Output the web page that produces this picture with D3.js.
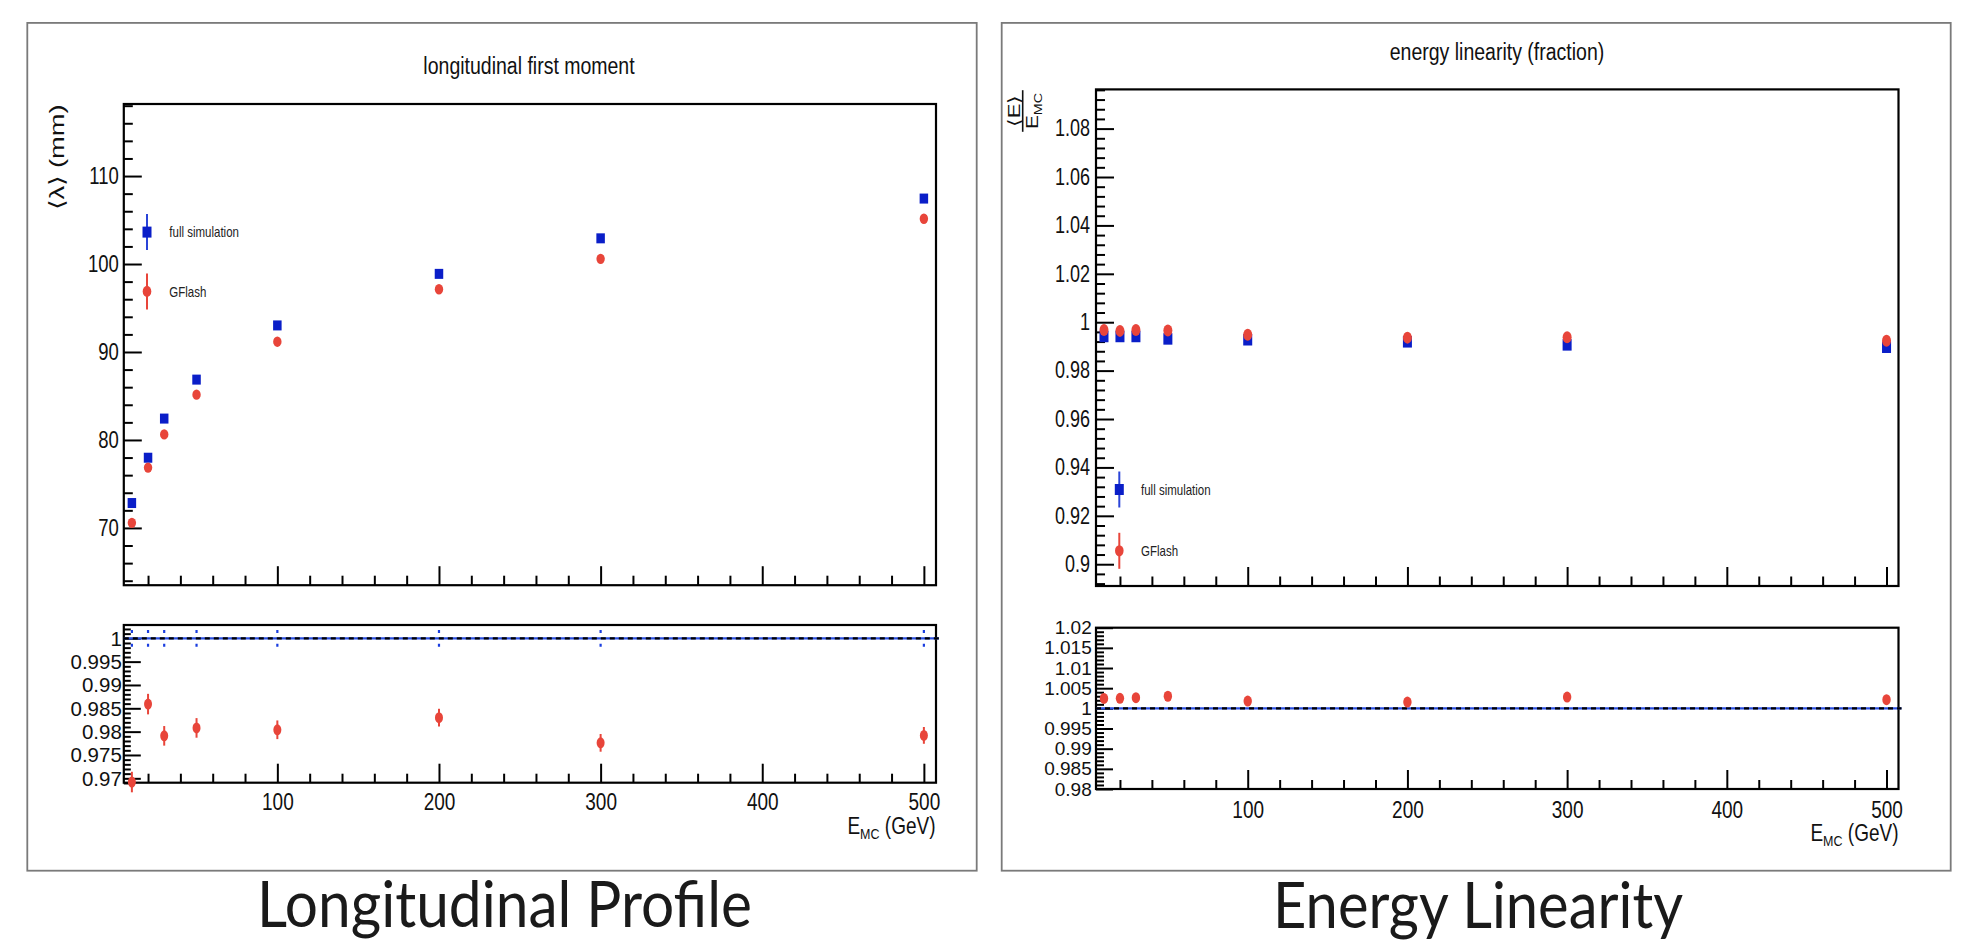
<!DOCTYPE html>
<html>
<head>
<meta charset="utf-8">
<script src="https://cdn.jsdelivr.net/npm/d3@7"></script>
<style>
  body { margin: 0; background: #fff; }
  svg { display: block; font-family: "Liberation Sans", Arial, Helvetica, sans-serif; }
</style>
</head>
<body>
<svg id="chart" width="1978" height="941"></svg>
<script>
var energies = [10, 20, 30, 50, 100, 200, 300, 500];

// longitudinal first moment <lambda> (mm)
var lambdaFull = [72.83, 77.98, 82.43, 86.86, 93.02, 98.88, 102.92, 107.44];
var lambdaGflash = [70.58, 76.86, 80.63, 85.15, 91.17, 97.13, 100.59, 105.15];
var lambdaRatio = [0.9692, 0.9859, 0.9791, 0.9808, 0.9804, 0.9830, 0.9776, 0.9792];
var lambdaRatioErr = [0.0022, 0.0022, 0.0021, 0.0021, 0.0020, 0.0019, 0.0019, 0.0018];
var lambdaFullErr = [0.0018, 0.0018, 0.0018, 0.0018, 0.0018, 0.0018, 0.0018, 0.0018];

// energy linearity <E>/E_MC
var linFull = [0.9941, 0.9941, 0.9941, 0.9931, 0.99275, 0.9919, 0.99064, 0.98966];
var linGflash = [0.99676, 0.99642, 0.9968, 0.9966, 0.9948, 0.99363, 0.99382, 0.99235];
var linRatio = [1.00247, 1.0025, 1.00264, 1.003, 1.0018, 1.00156, 1.0028, 1.00215];

var xMajor = [100, 200, 300, 400, 500];
var lambdaTicks = [70, 80, 90, 100, 110];
var linTicks = [0.9, 0.92, 0.94, 0.96, 0.98, 1, 1.02, 1.04, 1.06, 1.08];
var lambdaRatioTicks = [0.97, 0.975, 0.98, 0.985, 0.99, 0.995, 1];
var linRatioTicks = [0.98, 0.985, 0.99, 0.995, 1, 1.005, 1.01, 1.015, 1.02];

var blue = '#0a1ec8';
var red = '#e8453a';
var xDomain = [5, 507.5];

var svg = d3.select('#chart');

var xMinor = d3.range(1, 26).filter(function(i) { return i % 5 != 0; }).map(function(i) { return i * 20; });

function minorRange(from, to, step) {
    // integer steps so we don't pile up float noise
    return d3.range(from, to + 1).filter(function(i) { return i % 5 != 0; }).map(function(i) { return i * step; });
}

function fmt(d) {
    return String(+d.toFixed(3));
}

function stretch(sel, size, sy) {
    sel.attr('font-size', size)
        .attr('font-family', '"Liberation Sans", Arial, sans-serif')
        .attr('fill', '#111')
        .attr('transform', 'scale(1,' + sy + ')');
}

function drawBorder(x0, y0, x1, y1) {
    svg.append('rect')
        .attr('x', x0).attr('y', y0)
        .attr('width', x1 - x0).attr('height', y1 - y0)
        .attr('fill', 'none')
        .attr('stroke', '#7a7a7a')
        .attr('stroke-width', 1.8);
}

function drawAxes(f, x, y, o) {
    var gx = svg.append('g').attr('transform', 'translate(0,' + f.y1 + ')');
    gx.call(d3.axisBottom(x).tickValues(xMinor).tickSize(-o.xMinorLen).tickFormat(''));
    var gx2 = svg.append('g').attr('transform', 'translate(0,' + f.y1 + ')');
    gx2.call(d3.axisBottom(x).tickValues(xMajor).tickSize(-o.xMajorLen)
        .tickPadding(o.xPad || 0).tickFormat(o.xLabels ? fmt : ''));
    if (o.xLabels) {
        stretch(gx2.selectAll('text'), o.xFont, o.xStretch);
    }

    var gy = svg.append('g').attr('transform', 'translate(' + f.x0 + ',0)');
    gy.call(d3.axisLeft(y).tickValues(o.yMinor).tickSize(-o.yMinorLen).tickFormat(''));
    var gy2 = svg.append('g').attr('transform', 'translate(' + f.x0 + ',0)');
    gy2.call(d3.axisLeft(y).tickValues(o.yMajor).tickSize(-o.yMajorLen)
        .tickPadding(o.yPad).tickFormat(fmt));
    stretch(gy2.selectAll('text'), o.yFont, o.yStretch);

    svg.selectAll('.domain').remove();
    svg.selectAll('.tick line').attr('stroke', '#000').attr('stroke-width', 2);

    svg.append('rect')
        .attr('x', f.x0).attr('y', f.y0)
        .attr('width', f.x1 - f.x0).attr('height', f.y1 - f.y0)
        .attr('fill', 'none')
        .attr('stroke', '#000')
        .attr('stroke-width', 2.2);
}

function drawSquares(x, y, vals, w, h) {
    svg.append('g').selectAll('rect')
        .data(vals)
        .join('rect')
        .attr('x', function(d, i) { return x(energies[i]) - w / 2; })
        .attr('y', function(d) { return y(d) - h / 2; })
        .attr('width', w).attr('height', h)
        .attr('fill', blue);
}

function drawDots(x, y, vals, rx, ry) {
    svg.append('g').selectAll('ellipse')
        .data(vals)
        .join('ellipse')
        .attr('cx', function(d, i) { return x(energies[i]); })
        .attr('cy', function(d) { return y(d); })
        .attr('rx', rx).attr('ry', ry)
        .attr('fill', red);
}

function drawErrors(x, y, vals, errs) {
    var g = svg.append('g').attr('stroke', red).attr('stroke-width', 2);
    g.selectAll('line.bar')
        .data(vals)
        .join('line')
        .attr('class', 'bar')
        .attr('x1', function(d, i) { return x(energies[i]); })
        .attr('x2', function(d, i) { return x(energies[i]); })
        .attr('y1', function(d, i) { return y(d + errs[i]); })
        .attr('y2', function(d, i) { return y(d - errs[i]); });
}

function drawUnityLine(f, y) {
    var yy = y(1);
    svg.append('line')
        .attr('x1', f.x0).attr('x2', f.x1 + 3)
        .attr('y1', yy).attr('y2', yy)
        .attr('stroke', '#2a4ee0').attr('stroke-width', 2.2);
    svg.append('line')
        .attr('x1', f.x0).attr('x2', f.x1 + 3)
        .attr('y1', yy).attr('y2', yy)
        .attr('stroke', '#000').attr('stroke-width', 2.2)
        .attr('stroke-dasharray', '5,4');
}

function legend(lx, y1, y2, textX) {
    var g = svg.append('g');
    g.append('line').attr('x1', lx).attr('x2', lx).attr('y1', y1 - 18).attr('y2', y1 + 18)
        .attr('stroke', '#2a44d8').attr('stroke-width', 2);
    g.append('rect').attr('x', lx - 4.5).attr('y', y1 - 5.5).attr('width', 9).attr('height', 11)
        .attr('fill', blue);
    g.append('line').attr('x1', lx).attr('x2', lx).attr('y1', y2 - 18).attr('y2', y2 + 18)
        .attr('stroke', red).attr('stroke-width', 2);
    g.append('ellipse').attr('cx', lx).attr('cy', y2).attr('rx', 4.3).attr('ry', 5.6)
        .attr('fill', red);

    [['full simulation', y1], ['GFlash', y2]].forEach(function(t) {
        g.append('g')
            .attr('transform', 'translate(' + textX + ',' + t[1] + ') scale(1,1.3)')
            .append('text')
            .attr('dy', '0.35em')
            .attr('font-size', 11.5)
            .attr('fill', '#222')
            .text(t[0]);
    });
}

function title(cx, cy, txt) {
    svg.append('g')
        .attr('transform', 'translate(' + cx + ',' + cy + ') scale(1,1.25)')
        .append('text')
        .attr('text-anchor', 'middle')
        .attr('dy', '0.35em')
        .attr('font-size', 19.5)
        .attr('fill', '#111')
        .text(txt);
}

function xTitle(rx, by) {
    var t = svg.append('g')
        .attr('transform', 'translate(' + rx + ',' + by + ') scale(1,1.22)')
        .append('text')
        .attr('text-anchor', 'end')
        .attr('font-size', 19)
        .attr('fill', '#111');
    t.append('tspan').text('E');
    t.append('tspan').attr('font-size', 12.5).attr('dy', 4).text('MC');
    t.append('tspan').attr('dy', -4).text(' (GeV)');
}

function caption(cx, by, txt, len) {
    svg.append('text')
        .attr('x', cx).attr('y', by)
        .attr('text-anchor', 'middle')
        .attr('font-family', 'Lato, "Open Sans", sans-serif')
        .attr('font-weight', 400)
        .attr('font-size', 64)
        .attr('fill', '#1a1a1a')
        .attr('textLength', len)
        .attr('lengthAdjust', 'spacingAndGlyphs')
        .text(txt);
}

// ---------------- left panel: longitudinal profile ----------------
drawBorder(27.3, 22.9, 976.7, 870.7);

var lTop = { x0: 123.8, x1: 936, y0: 104, y1: 585.2 };
var lBot = { x0: 123.8, x1: 936, y0: 625, y1: 782.7 };

var xl = d3.scaleLinear().domain(xDomain).range([lTop.x0, lTop.x1]);
var yl = d3.scaleLinear().domain([63.49, 118.19]).range([lTop.y1, lTop.y0]);
var ylr = d3.scaleLinear().domain([0.96906, 1.00285]).range([lBot.y1, lBot.y0]);

drawAxes(lTop, xl, yl, {
    xMinorLen: 9.5, xMajorLen: 19, xLabels: false,
    yMinor: minorRange(32, 59, 2), yMajor: lambdaTicks,
    yMinorLen: 9, yMajorLen: 18, yPad: 5, yFont: 18.5, yStretch: 1.3
});
drawAxes(lBot, xl, ylr, {
    xMinorLen: 9, xMajorLen: 19, xLabels: true, xPad: 9.3, xFont: 19, xStretch: 1.22,
    yMinor: minorRange(969, 1002, 0.001), yMajor: lambdaRatioTicks,
    yMinorLen: 7, yMajorLen: 17, yPad: 2, yFont: 20.5, yStretch: 1.02
});

drawSquares(xl, yl, lambdaFull, 8.5, 10);
drawDots(xl, yl, lambdaGflash, 4.2, 5.2);

drawUnityLine(lBot, ylr);
// full-simulation ratio error bars: only their ends stick out of the unity line
svg.append('g').selectAll('line')
    .data(lambdaFullErr)
    .join('line')
    .attr('x1', function(d, i) { return xl(energies[i]); })
    .attr('x2', function(d, i) { return xl(energies[i]); })
    .attr('y1', function(d) { return ylr(1 + d); })
    .attr('y2', function(d) { return ylr(1 - d); })
    .attr('stroke', '#1a3ee0').attr('stroke-width', 2.2)
    .attr('stroke-dasharray', function(d) {
        var len = ylr(1 - d) - ylr(1 + d);
        return '3,' + (len - 6) + ',3';
    });
drawErrors(xl, ylr, lambdaRatio, lambdaRatioErr);
drawDots(xl, ylr, lambdaRatio, 4, 5.5);

legend(147, 232.1, 291.4, 169.3);
title(529, 65.2, 'longitudinal first moment');

svg.append('g')
    .attr('transform', 'translate(57,157) scale(1,1.3) rotate(-90)')
    .append('text')
    .attr('text-anchor', 'middle')
    .attr('dy', '0.35em')
    .attr('font-size', 21)
    .attr('fill', '#111')
    .text('\u27E8\u03BB\u27E9 (mm)');

xTitle(935.5, 834);
caption(504.4, 927.3, 'Longitudinal Profile', 495);

// ---------------- right panel: energy linearity ----------------
drawBorder(1001.7, 22.9, 1950.7, 870.7);

var rTop = { x0: 1096, x1: 1898.5, y0: 89.4, y1: 586 };
var rBot = { x0: 1096, x1: 1898.5, y0: 627.7, y1: 789 };

var xr = d3.scaleLinear().domain(xDomain).range([rTop.x0, rTop.x1]);
var yr = d3.scaleLinear().domain([0.891, 1.0962]).range([rTop.y1, rTop.y0]);
var yrr = d3.scaleLinear().domain([0.98, 1.02]).range([rBot.y1, rBot.y0]);

drawAxes(rTop, xr, yr, {
    xMinorLen: 9.5, xMajorLen: 19, xLabels: false,
    yMinor: minorRange(223, 274, 0.004), yMajor: linTicks,
    yMinorLen: 9, yMajorLen: 18, yPad: 6, yFont: 18, yStretch: 1.28
});
drawAxes(rBot, xr, yrr, {
    xMinorLen: 9, xMajorLen: 19, xLabels: true, xPad: 10.2, xFont: 19, xStretch: 1.22,
    yMinor: minorRange(980, 1020, 0.001), yMajor: linRatioTicks,
    yMinorLen: 8, yMajorLen: 17, yPad: 4.3, yFont: 19, yStretch: 1.0
});

drawSquares(xr, yr, linFull, 9, 11.5);
drawDots(xr, yr, linGflash, 4.5, 6);

drawUnityLine(rBot, yrr);
drawDots(xr, yrr, linRatio, 4.2, 5.5);

legend(1119.3, 489.5, 550.8, 1141);
title(1497, 51.4, 'energy linearity (fraction)');

// <E> over E_MC, rotated
var frac = svg.append('g')
    .attr('transform', 'translate(1022.7,111) scale(1,1.3) rotate(-90)')
    .attr('fill', '#111');
frac.append('text')
    .attr('text-anchor', 'middle')
    .attr('y', -2.5)
    .attr('font-size', 17)
    .text('\u27E8E\u27E9');
frac.append('line')
    .attr('x1', -16).attr('x2', 16)
    .attr('y1', 0).attr('y2', 0)
    .attr('stroke', '#111').attr('stroke-width', 1.6);
var den = frac.append('text')
    .attr('text-anchor', 'middle')
    .attr('y', 15)
    .attr('font-size', 16);
den.append('tspan').text('E');
den.append('tspan').attr('font-size', 11).attr('dy', 4).text('MC');

xTitle(1898.5, 841);
caption(1478, 928, 'Energy Linearity', 410);
</script>
</body>
</html>
